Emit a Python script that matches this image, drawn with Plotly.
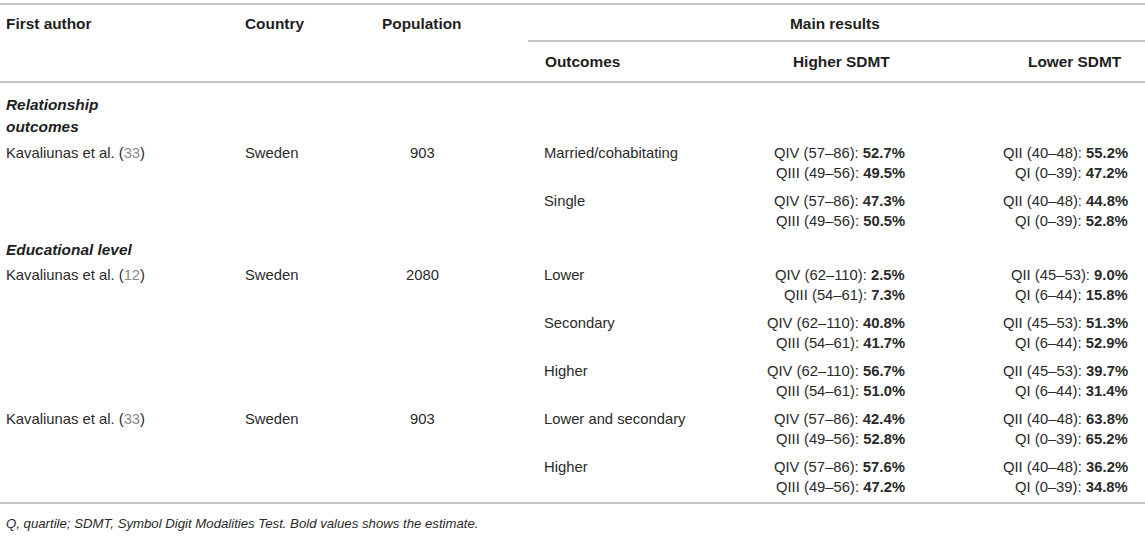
import plotly.graph_objects as go

# Table content
sections = ["Relationship<br>outcomes", "Educational level"]
study_authors = ["Kavaliunas et al.", "Kavaliunas et al.", "Kavaliunas et al."]
study_refs = ["33", "12", "33"]
study_countries = ["Sweden", "Sweden", "Sweden"]
study_populations = ["903", "2080", "903"]
study_section = [0, 1, 1]

outcomes = ["Married/cohabitating", "Single", "Lower", "Secondary", "Higher",
            "Lower and secondary", "Higher"]
outcome_study = [0, 0, 1, 1, 1, 2, 2]

higher_top_q = ["QIV (57–86)", "QIV (57–86)", "QIV (62–110)", "QIV (62–110)",
                "QIV (62–110)", "QIV (57–86)", "QIV (57–86)"]
higher_top_pct = ["52.7%", "47.3%", "2.5%", "40.8%", "56.7%", "42.4%", "57.6%"]
higher_bot_q = ["QIII (49–56)", "QIII (49–56)", "QIII (54–61)", "QIII (54–61)",
                "QIII (54–61)", "QIII (49–56)", "QIII (49–56)"]
higher_bot_pct = ["49.5%", "50.5%", "7.3%", "41.7%", "51.0%", "52.8%", "47.2%"]

lower_top_q = ["QII (40–48)", "QII (40–48)", "QII (45–53)", "QII (45–53)",
               "QII (45–53)", "QII (40–48)", "QII (40–48)"]
lower_top_pct = ["55.2%", "44.8%", "9.0%", "51.3%", "39.7%", "63.8%", "36.2%"]
lower_bot_q = ["QI (0–39)", "QI (0–39)", "QI (6–44)", "QI (6–44)",
               "QI (6–44)", "QI (0–39)", "QI (0–39)"]
lower_bot_pct = ["47.2%", "52.8%", "15.8%", "52.9%", "31.4%", "65.2%", "34.8%"]

footnote = "Q, quartile; SDMT, Symbol Digit Modalities Test. Bold values shows the estimate."

W, H = 1145, 536
FONT = "Liberation Sans, Arial, Helvetica, sans-serif"
TXT = "#2a2a2a"
HEAD = "#1e1e1e"
REF = "#8a8a8a"
RULE = "#c4c4c4"
FS = 14.8
FS_HEAD = 15.4

X_AUTHOR, X_COUNTRY, X_POP = 4, 243, 422
X_OUT, X_HIGH, X_LOW = 542, 907, 1130

annotations = []
shapes = []


def txt(x, y, s, anchor="left", size=FS, color=TXT):
    annotations.append(dict(x=x, y=y, text=s, showarrow=False, xanchor=anchor,
                            yanchor="middle", font=dict(family=FONT, size=size, color=color)))


def head(x, y, s, anchor="left"):
    txt(x, y, "<b>" + s + "</b>", anchor=anchor, size=FS_HEAD, color=HEAD)


def rule(y, x0=0, x1=W):
    shapes.append(dict(type="line", x0=x0, x1=x1, y0=y, y1=y,
                       line=dict(color=RULE, width=2)))


# header
rule(4)
head(X_AUTHOR, 23, "First author")
head(X_COUNTRY, 23, "Country")
head(X_POP, 23, "Population", anchor="center")
head(835, 23, "Main results", anchor="center")
rule(41, x0=528)
head(X_OUT + 1, 61, "Outcomes")
head(841, 61, "Higher SDMT", anchor="center")
head(1075, 61, "Lower SDMT", anchor="center")
rule(82)

# body
y = 104
cur_section = None
cur_study = None
for i, name in enumerate(outcomes):
    s = outcome_study[i]
    if study_section[s] != cur_section:
        cur_section = study_section[s]
        if i > 0:
            y += 48
        lines = sections[cur_section].split("<br>")
        for k, part in enumerate(lines):
            txt(X_AUTHOR, y + 22 * k, "<b><i>" + part + "</i></b>", size=FS_HEAD, color=HEAD)
        y += 22 * (len(lines) - 1) + (27 if len(lines) > 1 else 26)
    else:
        y += 48
    if s != cur_study:
        cur_study = s
        txt(X_AUTHOR, y, study_authors[s] + " (<span style='color:%s'>%s</span>)" % (REF, study_refs[s]))
        txt(X_COUNTRY, y, study_countries[s])
        txt(X_POP, y, study_populations[s], anchor="center")
    txt(X_OUT, y, name)
    txt(X_HIGH, y, higher_top_q[i] + ": <b>" + higher_top_pct[i] + "</b>", anchor="right")
    txt(X_HIGH, y + 20, higher_bot_q[i] + ": <b>" + higher_bot_pct[i] + "</b>", anchor="right")
    txt(X_LOW, y, lower_top_q[i] + ": <b>" + lower_top_pct[i] + "</b>", anchor="right")
    txt(X_LOW, y + 20, lower_bot_q[i] + ": <b>" + lower_bot_pct[i] + "</b>", anchor="right")

rule(503)
txt(X_AUTHOR, 523, "<i>" + footnote + "</i>", size=13.2)

fig = go.Figure()
fig.update_layout(
    width=W, height=H,
    margin=dict(l=0, r=0, t=0, b=0),
    paper_bgcolor="white", plot_bgcolor="white",
    xaxis=dict(range=[0, W], visible=False, fixedrange=True),
    yaxis=dict(range=[H, 0], visible=False, fixedrange=True),
    annotations=annotations, shapes=shapes, showlegend=False,
)
fig.write_html("out.html", config={"displayModeBar": False},
               post_script="document.body.style.margin='0';")
